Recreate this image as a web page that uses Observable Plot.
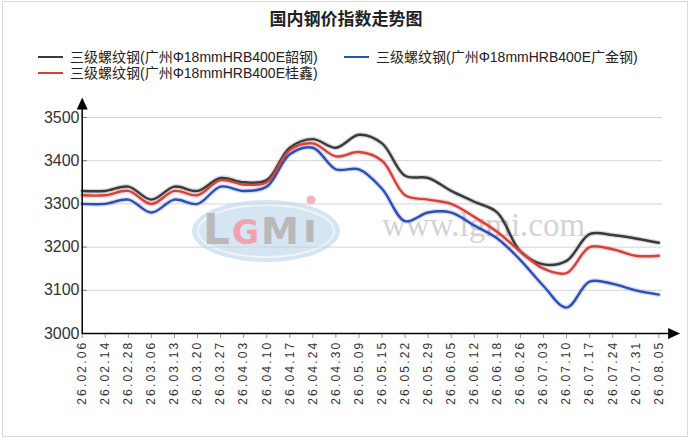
<!DOCTYPE html>
<html>
<head>
<meta charset="utf-8">
<script src="https://cdn.jsdelivr.net/npm/d3@7"></script>
<script src="https://cdn.jsdelivr.net/npm/@observablehq/plot@0.6"></script>
<style>
  html, body { margin: 0; padding: 0; background: #fff; }
  #wrap { position: relative; width: 692px; height: 443px; overflow: hidden; font-family: "Liberation Sans", Arial, "Noto Sans CJK SC", sans-serif; }
  #border { position: absolute; left: 2px; top: 1px; width: 686px; height: 436px; border: 1px solid #d9d9d9; box-sizing: border-box; }
  #title { position: absolute; top: 5px; left: 0; width: 692px; text-align: center; font: bold 17px "Noto Sans CJK SC", sans-serif; color: #222; line-height: 26px; }
  .leg { position: absolute; font-size: 14px; color: #222; line-height: 18px; white-space: nowrap; font-family: "Liberation Sans", Arial, "Noto Sans CJK SC", sans-serif; }
  .sw { position: absolute; width: 25px; height: 0; border-top: 2.5px solid; }
  #wm { position: absolute; left: 0; top: 0; }
  #chart { position: absolute; left: 0; top: 85px; }
</style>
</head>
<body>
<div id="wrap">
  <div id="border"></div>
  <svg id="wm" width="692" height="443">
    <ellipse cx="266" cy="231" rx="74" ry="31" fill="#d2e2f2" opacity="0.9"></ellipse>
    <ellipse cx="266" cy="231" rx="68" ry="26" fill="none" stroke="#eef4fa" stroke-width="2"></ellipse>
    <text x="203" y="244" font-family="DejaVu Sans" font-weight="bold" font-size="42" fill="#b9b9b9">L</text>
    <text x="232" y="244" font-family="DejaVu Sans" font-weight="bold" font-size="33" fill="#f1a3ad">G</text>
    <text x="261" y="244" font-family="DejaVu Sans" font-weight="bold" font-size="38" fill="#b9b9b9">M</text>
    <text x="303" y="242" font-family="DejaVu Sans" font-weight="bold" font-size="40" fill="#b9b9b9">ı</text>
    <circle cx="311" cy="200" r="4.5" fill="#f4b3bb"></circle>
    <text x="382" y="236" font-family="Liberation Serif" font-size="33" fill="#d4d4d4">www.lgmi.com</text>
  </svg>
  <div id="title"></div>
  <div id="legend"></div>
  <div id="chart"></div>
</div>
<script>
// ---- data ----
const titleText = "国内钢价指数走势图";
const dates = ["26.02.06","26.02.14","26.02.28","26.03.06","26.03.13","26.03.20","26.03.27","26.04.03","26.04.10","26.04.17","26.04.24","26.04.30","26.05.09","26.05.15","26.05.22","26.05.29","26.06.05","26.06.12","26.06.18","26.06.26","26.07.03","26.07.10","26.07.17","26.07.24","26.07.31","26.08.05"];
const seriesNames = ["三级螺纹钢(广州Φ18mmHRB400E韶钢)", "三级螺纹钢(广州Φ18mmHRB400E广金钢)", "三级螺纹钢(广州Φ18mmHRB400E桂鑫)"];
const shaogang = [3330,3330,3340,3310,3340,3330,3360,3350,3355,3430,3450,3430,3460,3440,3365,3360,3330,3305,3280,3190,3160,3168,3230,3228,3220,3210];
const guangjin = [3300,3300,3310,3280,3310,3300,3340,3330,3340,3415,3430,3380,3380,3335,3260,3280,3280,3250,3220,3170,3110,3060,3120,3115,3100,3090];
const guixin   = [3320,3320,3330,3300,3330,3320,3355,3345,3350,3425,3440,3410,3420,3400,3320,3310,3300,3270,3235,3190,3150,3140,3200,3195,3180,3180];
const yTicks = [3000,3100,3200,3300,3400,3500];
const seriesColors = ["#3a3a3a", "#2b4fb6", "#d9403c"];

// ---- header ----
document.getElementById("title").textContent = titleText;
const legendPos = [[38, 48], [344, 48], [38, 64]];
const legend = document.getElementById("legend");
seriesNames.forEach((name, k) => {
  const [lx, ly] = legendPos[k];
  const sw = document.createElement("div");
  sw.className = "sw";
  sw.style.left = lx + "px";
  sw.style.top = (ly + 8) + "px";
  sw.style.borderColor = seriesColors[k];
  legend.appendChild(sw);
  const t = document.createElement("div");
  t.className = "leg";
  t.style.left = (lx + 32) + "px";
  t.style.top = ly + "px";
  t.textContent = name;
  legend.appendChild(t);
});

// ---- chart ----
const values = [shaogang, guangjin, guixin];
const rows = values.flatMap((vals, k) => vals.map((v, i) => ({i, v, s: seriesNames[k]})));
const n = dates.length - 1;
const yTop = 3530;
const xEnd = n + 0.62;

const upTri = {draw(ctx) { ctx.moveTo(0, -7); ctx.lineTo(5.5, 5); ctx.lineTo(-5.5, 5); ctx.closePath(); }};
const rightTri = {draw(ctx) { ctx.moveTo(7, 0); ctx.lineTo(-5, -5.5); ctx.lineTo(-5, 5.5); ctx.closePath(); }};

const plot = Plot.plot({
  width: 692,
  height: 358,
  marginLeft: 82,
  marginRight: 30,
  marginTop: 32,
  marginBottom: 110,
  x: {domain: [0, n], range: [81.7, 658.3]},
  y: {domain: [3000, 3500], range: [248, 32]},
  color: {domain: seriesNames, range: seriesColors},
  style: {background: "transparent", fontFamily: "Liberation Sans, Arial, sans-serif", overflow: "visible"},
  marks: [
    Plot.ruleY(yTicks.slice(1), {stroke: "#d4d4d4", strokeWidth: 1}),
    Plot.ruleY(yTicks.slice(1), {x1: 0, x2: 0.22, stroke: "#777"}),
    Plot.axisY({ticks: yTicks, tickFormat: d => String(d), tickSize: 0, tickPadding: 3, fontSize: 16, fill: "#333", label: null}),
    Plot.axisX({ticks: d3.range(dates.length), tickFormat: i => dates[i], tickRotate: -90, tickSize: 5, tickPadding: 2, fontSize: 12, stroke: "#999", fill: "#333", label: null}),
    Plot.line(rows, {x: "i", y: "v", z: "s", stroke: "s", curve: "catmull-rom", strokeWidth: 5, strokeOpacity: 0.18}),
    Plot.line(rows, {x: "i", y: "v", z: "s", stroke: "s", curve: "catmull-rom", strokeWidth: 2.4}),
    Plot.ruleX([0], {y1: 3000, y2: yTop, stroke: "#000", strokeWidth: 1.5}),
    Plot.ruleY([3000], {x1: 0, x2: xEnd, stroke: "#000", strokeWidth: 1.5}),
    Plot.dot([{x: 0, y: yTop}], {x: "x", y: "y", symbol: upTri, fill: "#000", stroke: "none", r: 5}),
    Plot.dot([{x: xEnd, y: 3000}], {x: "x", y: "y", symbol: rightTri, fill: "#000", stroke: "none", r: 5})
  ]
});
plot.querySelectorAll('[aria-label="x-axis tick label"] text').forEach(t => t.setAttribute("letter-spacing", "2.2"));
document.getElementById("chart").appendChild(plot);
</script>
</body>
</html>
